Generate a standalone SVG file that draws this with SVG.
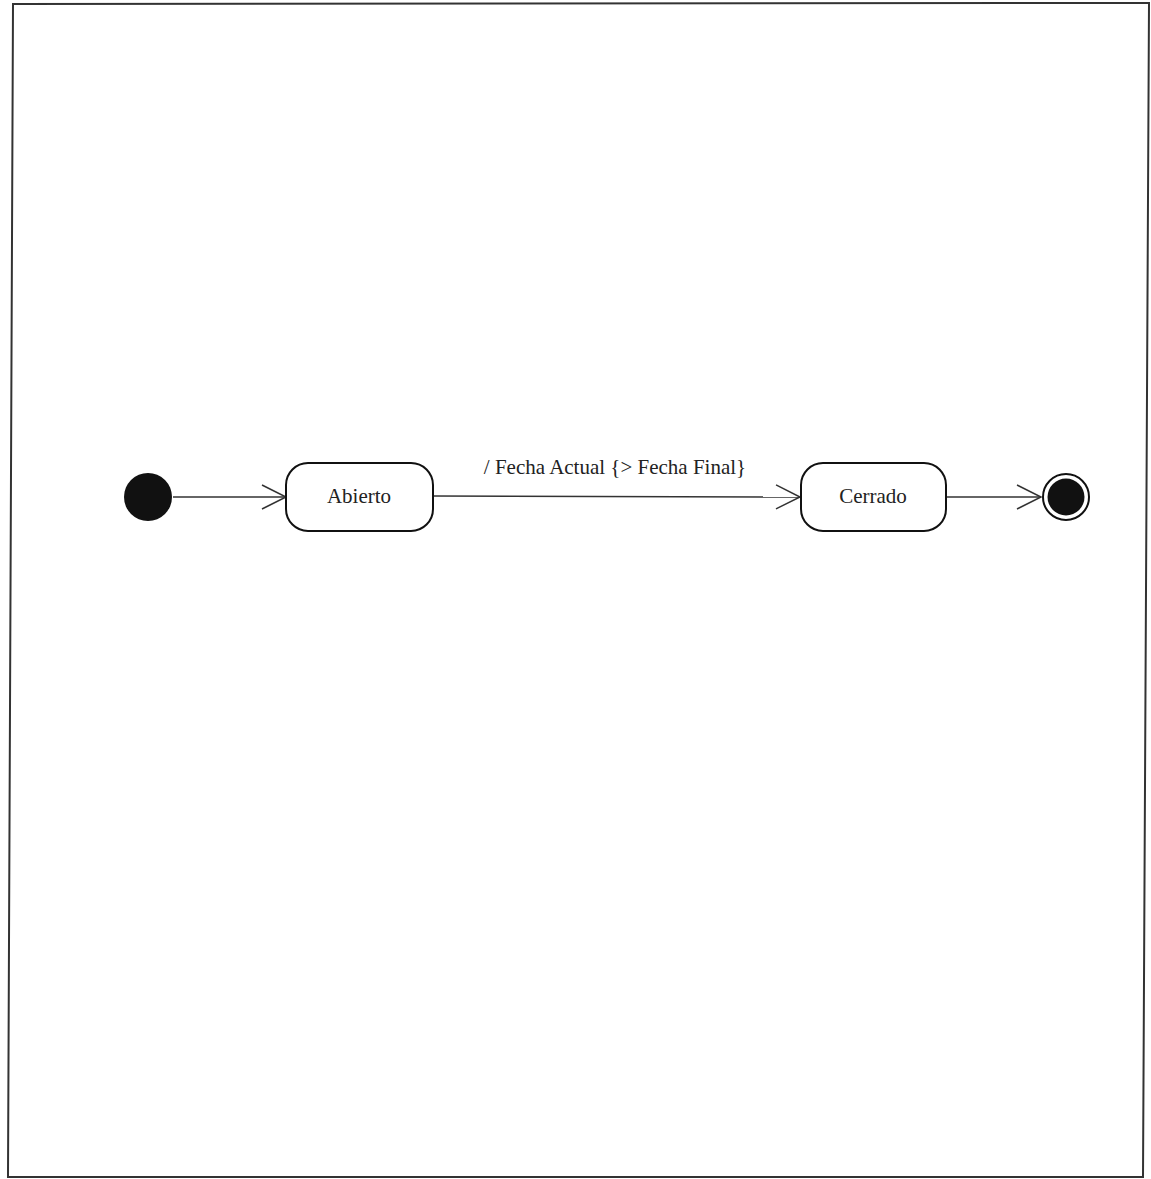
<svg xmlns="http://www.w3.org/2000/svg" width="1151" height="1179" viewBox="0 0 1151 1179">
<style>
.frame{fill:none;stroke:#333;stroke-width:2}
.state{fill:#fff;stroke:#111;stroke-width:2}
.lbl{font-family:"Liberation Serif","Times New Roman",serif;font-size:21px;fill:#222;text-anchor:middle}
.edge{fill:none;stroke:#333;stroke-width:1.5}
</style>
<defs>
<marker id="open" markerWidth="28" markerHeight="28" refX="25" refY="13" orient="auto" markerUnits="userSpaceOnUse">
<path d="M1,1 L25,13 L1,25" fill="none" stroke="#333" stroke-width="1.5"/>
</marker>
</defs>
<rect width="1151" height="1179" fill="#fff"/>
<polygon class="frame" points="13,4 1149,3 1143,1177 8,1177"/>
<g id="connectors">
<line class="edge" x1="173" y1="497" x2="286" y2="497" marker-end="url(#open)"/>
<line class="edge" x1="433" y1="496" x2="800" y2="497" marker-end="url(#open)"/>
<text class="lbl" x="615" y="474">/ Fecha Actual {&gt; Fecha Final}</text>
<line class="edge" x1="946" y1="497" x2="1041" y2="497" marker-end="url(#open)"/>
</g>
<g id="initial">
<circle cx="148" cy="497" r="24" fill="#111"/>
</g>
<g id="abierto">
<rect class="state" x="286" y="463" width="147" height="68" rx="22"/>
<text class="lbl" x="359" y="503">Abierto</text>
</g>
<g id="cerrado">
<rect class="state" x="801" y="463" width="145" height="68" rx="22"/>
<text class="lbl" x="873" y="503">Cerrado</text>
</g>
<g id="final">
<circle cx="1066" cy="497" r="23" fill="#fff" stroke="#111" stroke-width="2"/>
<circle cx="1066" cy="497" r="18.5" fill="#111"/>
</g>
</svg>
